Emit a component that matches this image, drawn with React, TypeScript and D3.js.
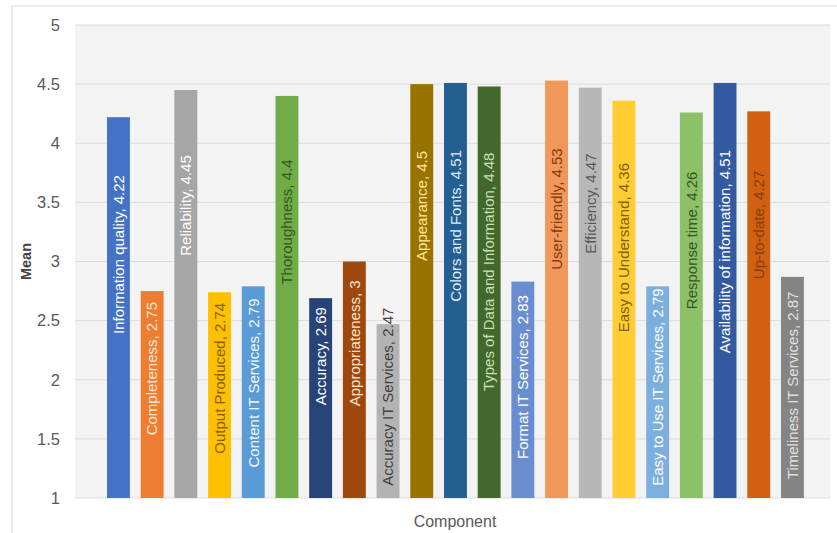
import React from "react";
import * as d3 from "d3";

const categories = [
  "Information quality", "Completeness", "Reliability", "Output Produced", "Content IT Services",
  "Thoroughness", "Accuracy", "Appropriateness", "Accuracy IT Services", "Appearance",
  "Colors and Fonts", "Types of Data and Information", "Format IT Services", "User-friendly",
  "Efficiency", "Easy to Understand", "Easy to Use IT Services", "Response time",
  "Availability of information", "Up-to-date", "Timeliness IT Services",
];
const values = [4.22, 2.75, 4.45, 2.74, 2.79, 4.4, 2.69, 3, 2.47, 4.5, 4.51, 4.48, 2.83, 4.53, 4.47, 4.36, 2.79, 4.26, 4.51, 4.27, 2.87];
const barColors = [
  "#4472C4", "#ED7D31", "#A5A5A5", "#FFC000", "#5B9BD5", "#70AD47", "#264478", "#9E480E",
  "#B3B3B3", "#997300", "#255E91", "#43682B", "#698ED0", "#F1975A", "#B7B7B7", "#FFCD33",
  "#7CAFDD", "#8CC168", "#335AA1", "#D26012", "#848484",
];
const labelColors = [
  "#ffffff", "#fbe5d6", "#ffffff", "#7f6000", "#f2f8fc", "#375623", "#ffffff", "#fbe5d6",
  "#404040", "#ffe699", "#ddebf7", "#c5e0b4", "#ffffff", "#843c0c", "#595959", "#7f6000",
  "#ffffff", "#375623", "#ffffff", "#843c0c", "#e0e0e0",
];
const yTicks = [1, 1.5, 2, 2.5, 3, 3.5, 4, 4.5, 5];

const W = 837;
const H = 533;
const plot = { left: 75, right: 830, top: 25, bottom: 498 };
const FONT = "'Liberation Sans', Arial, sans-serif";
const LABEL_SIZE = 15;

let ctx: CanvasRenderingContext2D | null = null;
function measure(s: string): number {
  if (!ctx) {
    const c = document.createElement("canvas");
    ctx = c.getContext("2d");
  }
  if (!ctx) return s.length * LABEL_SIZE * 0.5;
  ctx.font = `${LABEL_SIZE}px ${FONT}`;
  return ctx.measureText(s).width;
}

export default function App() {
  const y = d3.scaleLinear().domain([1, 5]).range([plot.bottom, plot.top]);
  const x = d3
    .scaleBand<string>()
    .domain(categories)
    .range([101.6, 809.3])
    .paddingInner(0.32)
    .paddingOuter(0.16);
  return (
    <svg
      width={W}
      height={H}
      style={{ position: "absolute", left: 0, top: 0, background: "#ffffff" }}
      fontFamily={FONT}
    >
      <rect x={12} y={6} width={W} height={H} fill="#ffffff" stroke="#d9d9d9" strokeWidth={1} />
      <rect
        x={plot.left}
        y={plot.top}
        width={plot.right - plot.left}
        height={plot.bottom - plot.top}
        fill="#f3f3f3"
      />
      {yTicks.map((t) => (
        <g key={t}>
          <line x1={plot.left} x2={plot.right} y1={y(t)} y2={y(t)} stroke="#dcdcdc" strokeWidth={1} />
          <text x={60} y={y(t)} dy="0.35em" textAnchor="end" fontSize={16.5} fill="#595959">
            {t}
          </text>
        </g>
      ))}
      {categories.map((c, i) => {
        const top = y(values[i]);
        const len = plot.bottom - top;
        const bx = x(c)!;
        const cx = bx + x.bandwidth() / 2;
        const label = `${c}, ${values[i]}`;
        const tl = measure(label);
        const labelTop = Math.min(top + 0.27 * len - 45, plot.bottom - 12 - tl);
        return (
          <g key={c}>
            <rect x={bx} y={top} width={x.bandwidth()} height={len} fill={barColors[i]} />
            <text
              transform={`translate(${cx},${labelTop}) rotate(-90)`}
              textAnchor="end"
              dy="0.35em"
              fontSize={LABEL_SIZE}
              fill={labelColors[i]}
            >
              {label}
            </text>
          </g>
        );
      })}
      <text
        transform={`translate(26,${(plot.top + plot.bottom) / 2}) rotate(-90)`}
        textAnchor="middle"
        dy="0.35em"
        fontSize={14.5}
        fontWeight="bold"
        fill="#404040"
      >
        Mean
      </text>
      <text x={455} y={521} textAnchor="middle" dy="0.35em" fontSize={16} fill="#595959">
        Component
      </text>
    </svg>
  );
}
